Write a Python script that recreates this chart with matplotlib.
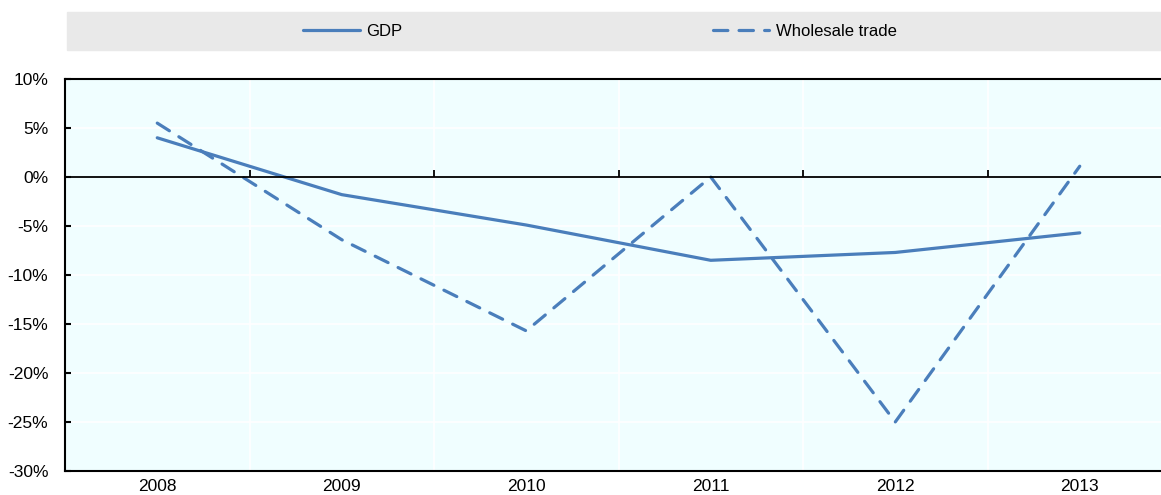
import numpy as np
import matplotlib
matplotlib.use("Agg")
import matplotlib.pyplot as plt
from matplotlib.patches import Rectangle
from matplotlib.ticker import FuncFormatter

plt.rcParams['font.family'] = ['Liberation Sans Narrow', 'DejaVu Sans Condensed',
                               'Liberation Sans', 'DejaVu Sans']

# data (% change)
years = ['2008', '2009', '2010', '2011', '2012', '2013']
gdp = [4.0, -1.8, -4.9, -8.5, -7.7, -5.7]
wholesale = [5.5, -6.4, -15.7, 0.0, -25.0, 1.1]
y_ticks = [10, 5, 0, -5, -10, -15, -20, -25, -30]

blue = '#4a7ebb'

fig = plt.figure(figsize=(11.61, 4.95), dpi=100)
ax = fig.add_axes([65 / 1161, 24 / 495, 1107 / 1161, 392 / 495])
ax.set_facecolor('#f0feff')

x = np.arange(len(years))
ax.plot(x, gdp, color=blue, lw=2.3, solid_capstyle='round', label='GDP', zorder=4)
ax.plot(x, wholesale, color=blue, lw=2.3, ls=(0, (4.5, 3.5)),
        dash_capstyle='round', label='Wholesale trade', zorder=4)

ax.set_xlim(-0.5, len(years) - 0.5)
ax.set_ylim(-30, 10)
ax.set_xticks(x)
ax.set_xticklabels(years)
ax.set_xticks(x[:-1] + 0.5, minor=True)
ax.set_yticks(y_ticks)
ax.yaxis.set_major_formatter(FuncFormatter(lambda v, p: f'{int(round(v))}%'))
ax.tick_params(axis='x', which='both', length=0, labelsize=12.5, pad=6)
ax.tick_params(axis='y', direction='in', length=4, width=1.5, labelsize=12.5, pad=12)
ax.grid(axis='y', color='white', lw=1.2)
ax.grid(axis='x', which='minor', color='white', lw=1.2)
ax.set_axisbelow(True)
for s in ['left', 'bottom', 'top']:
    ax.spines[s].set_linewidth(1.5)
    ax.spines[s].set_color('black')
ax.spines['right'].set_visible(False)

# zero line with category tick marks (twin x axis moved to y = 0)
ax2 = ax.twiny()
ax2.set_xlim(ax.get_xlim())
for s in ['left', 'bottom', 'right']:
    ax2.spines[s].set_visible(False)
ax2.spines['top'].set_position(('axes', 0.75))
ax2.spines['top'].set_linewidth(1.3)
ax2.spines['top'].set_color('black')
ax2.set_xticks(x[:-1] + 0.5)
ax2.set_xticklabels([])
ax2.tick_params(axis='x', direction='out', length=5, width=1.3, color='black')

# legend band
fig.patches.append(Rectangle((67 / 1161, 1 - 50 / 495), 1, 38 / 495,
                             transform=fig.transFigure, color='#e9e9e9', zorder=0))
handles, labels = ax.get_legend_handles_labels()
fig.legend(handles, labels, loc='center', bbox_to_anchor=(600 / 1161, 1 - 31 / 495),
           ncol=2, frameon=False, fontsize=12, handlelength=3.4,
           handletextpad=0.4, columnspacing=18.6)

fig.savefig('out.png', dpi=100)
